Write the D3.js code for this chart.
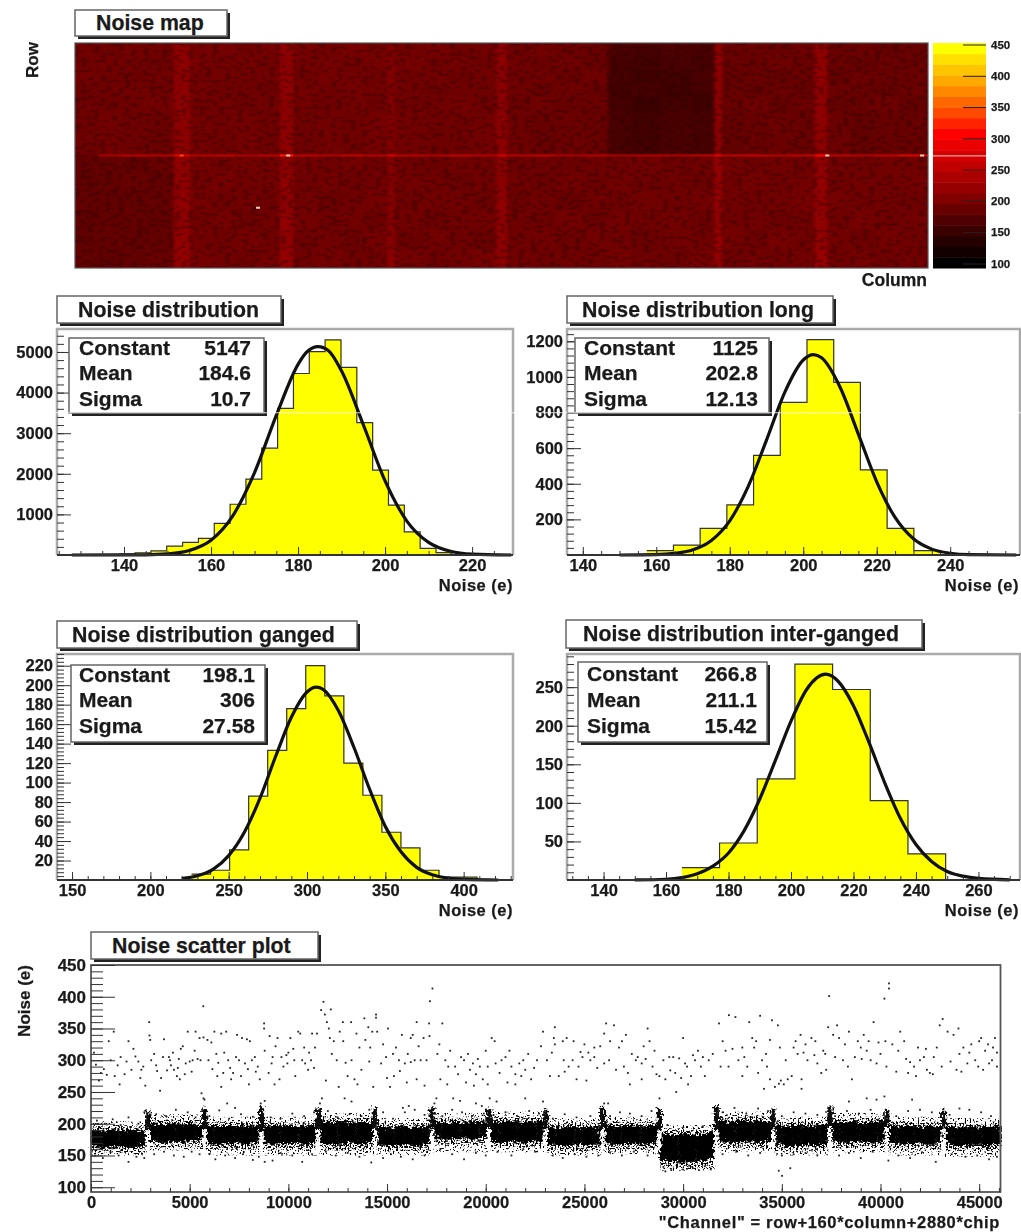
<!DOCTYPE html>
<html>
<head>
<meta charset="utf-8">
<script src="https://cdn.jsdelivr.net/npm/d3@7"></script>
<style>
html, body { margin: 0; padding: 0; background: #fff; }
svg { display: block; filter: blur(0.65px); }
text { font-family: "Liberation Sans", Arial, sans-serif; font-weight: bold; fill: #1a1a1a; stroke: #1a1a1a; stroke-width: 0.25px; }
</style>
</head>
<body>
<svg id="chart" width="1021" height="1232"></svg>
<script>
// ---- histogram data
var noiseStart = 138.9, noiseWidth = 3.64
var noiseCounts = [20,55,100,220,310,410,780,1250,1870,2630,3610,4470,5010,5300,4620,3260,2090,1230,570,165,60,10]
var noiseFit = [[128,0],[140,1],[145,5],[150,28],[155,112],[160,365],[165,965],[170,2030],[175,3440],[180,4695],[182,5000],[184.6,5130],[187,5030],[190,4530],[195,3208],[200,1826],[205,836],[210,310],[215,91],[220,21],[229,0]]
var noiseXTicks = [140,160,180,200,220]
var noiseYTicks = [1000,2000,3000,4000,5000]

var longStart = 157.4, longWidth = 7.27
var longCounts = [25,56,150,281,559,857,1209,969,478,150,25]
var longFit = [[150,0],[160,2],[165,9],[170,29],[175,82],[180,192],[185,384],[190,645],[195,915],[200,1095],[202.8,1125],[205,1107],[210,943],[215,679],[220,411],[225,211],[230,91],[235,33],[240,10],[245,2],[258,0]]
var longXTicks = [140,160,180,200,220,240]
var longYTicks = [200,400,600,800,1000,1200]

var gangedStart = 226.3, gangedWidth = 12.15
var gangedCounts = [6,10,31,86,133,176,220,189,120,87,49,33,10,3,3]
var gangedFit = [[220,1.5],[230,4.4],[240,11],[250,25],[260,49],[270,84],[280,127],[290,167],[300,193],[306,198],[310,196],[320,174],[330,136],[340,93],[350,55],[360,29],[370,13],[380,5.4],[390,2],[400,0.6],[422,0]]
var gangedXTicks = [150,200,250,300,350,400]
var gangedYTicks = [20,40,60,80,100,120,140,160,180,200,220]

var interStart = 165.07, interWidth = 12.06
var interCounts = [16,48,131,280,247,103,34]
var interFit = [[150,0.1],[160,1],[165,3],[170,8],[175,18],[180,35],[185,64],[190,105],[195,155],[200,206],[205,247],[211.1,266.8],[215,258],[220,226],[225,178],[230,126],[235,80],[240,46],[245,24],[250,11],[255,5],[260,2],[270,0.2]]
var interXTicks = [140,160,180,200,220,240,260]
var interYTicks = [50,100,150,200,250]

// ---- stats boxes
var statNames = ["Constant","Mean","Sigma"]
var noiseStats = ["5147","184.6","10.7"]
var longStats = ["1125","202.8","12.13"]
var gangedStats = ["198.1","306","27.58"]
var interStats = ["266.8","211.1","15.42"]

// ---- noise map data (columns 0-144, rows 0-320)
var mapColEdges = [0,4,8,12,16.7,19.4,23,27,31,34.6,36.8,41,45,49,52.8,54,59,63,67,71.2,72.9,77,81,86,90,94,99,104,108,109.2,113,117,121,124.9,127,131,135,139,144]
var mapRowEdges = [320,301,282,263,244,222,160,137,110,82,55,27,0]
var mapCells = [
 [194,191,196,192,214,195,198,193,197,216,197,194,199,195,206,194,197,192,195,212,191,194,190,188,166,162,168,164,214,186,190,188,191,216,186,189,185,188],
 [192,195,193,190,216,197,194,196,192,212,195,198,193,197,204,196,192,195,191,216,193,189,192,186,163,160,165,161,218,189,186,191,187,214,188,185,190,186],
 [195,192,190,194,212,193,196,192,195,214,192,196,195,192,208,192,195,190,194,210,190,192,188,191,161,158,160,164,216,185,188,184,189,218,184,190,187,189],
 [190,193,195,191,215,196,191,194,190,216,196,193,197,194,204,195,190,193,192,214,192,188,191,187,159,163,157,162,214,187,184,189,185,215,189,186,184,190],
 [193,190,192,195,213,192,195,190,194,211,194,191,195,190,207,191,193,196,190,211,189,193,187,190,162,156,161,158,217,188,191,185,190,217,185,188,191,185],
 [191,194,191,189,214,195,192,196,191,215,191,195,192,196,205,194,191,192,195,215,191,187,190,186,164,160,166,163,215,184,187,190,186,214,190,184,187,188],
 [183,185,182,187,216,196,193,197,192,214,195,192,196,191,208,193,190,194,191,216,190,193,189,192,191,195,190,193,220,196,192,195,191,217,194,191,195,192],
 [181,184,186,183,214,194,197,192,195,217,192,195,190,194,205,195,192,189,193,212,192,189,194,190,194,190,193,189,218,193,196,191,195,219,191,195,192,196],
 [184,181,183,185,217,197,192,195,191,213,194,189,193,196,210,191,194,192,189,218,189,192,188,193,190,194,191,195,221,195,191,194,197,216,196,192,194,191],
 [180,183,185,182,213,193,196,190,194,218,196,191,195,190,206,194,189,193,195,214,193,190,195,189,195,191,194,190,217,192,195,190,193,220,192,197,191,195],
 [182,185,181,184,218,195,191,197,192,216,191,194,189,197,212,190,195,191,188,219,191,195,190,194,192,189,195,192,222,197,190,196,192,218,195,190,196,193],
 [183,180,184,186,219,196,194,191,196,220,193,196,192,193,214,196,191,194,197,215,194,191,193,191,196,193,190,196,219,191,194,192,195,221,193,196,191,194]
]
var mapCenterLine = [185,240,252,245,285,248,256,240,254,320,254,244,258,248,285,250,244,256,248,270,248,256,240,248,236,248,244,254,285,254,260,248,256,305,254,248,258,285]
var mapHotCells = [[30.4,85,120],[30.9,85.7,380],[36,160,400],[18,160,340],[127,160,390],[143,160,420]]
var mapRowTicks = [40,80,120,160,200,240,280]

// ---- palette
var paletteColors = ["#000000","#120000","#250000","#3a0000","#500000","#680000","#800000","#960000","#aa0000","#c00000","#d60000","#ea0000","#ff0000","#ff2400","#ff4800","#ff6800","#ff8800","#ffa800","#ffc400","#ffe000","#ffff00"]
var paletteTicks = [100,150,200,250,300,350,400,450]

// ---- scatter plot: solid core of each chip, six segments per chip
var chipChannels = 2880
var bandTop = [
 190,189,191,188,190,189, 200,198,201,199,200,198, 197,195,198,196,197,196, 196,198,197,195,197,198,
 203,201,204,202,203,201, 195,194,196,195,194,196, 203,201,203,202,204,202, 204,203,205,202,204,205,
 195,194,196,193,195,196, 197,196,198,197,196,198, 184,182,185,183,184,186, 205,203,206,204,205,203,
 197,196,198,196,197,198, 203,202,204,201,203,204, 197,196,198,195,197,196, 195,194,196,194,195,197]
var bandBottom = [
 163,162,164,163,162,165, 172,170,172,171,172,174, 169,167,168,170,168,170, 169,167,168,170,167,171,
 169,168,167,170,168,171, 167,165,166,167,165,168, 177,175,176,177,175,178, 171,170,172,170,171,172,
 167,165,166,168,166,167, 169,167,168,169,167,170, 143,141,139,140,142,146, 172,170,171,172,170,172,
 167,165,166,167,165,168, 172,170,171,172,170,172, 169,167,168,169,167,170, 167,165,166,167,165,168]
var haloTop = [200,211,207,207,213,205,213,215,205,207,194,215,207,213,207,205]
var haloBottom = [150,158,150,150,150,150,155,155,150,152,126,155,150,155,150,148]
var spikeLow = [190,192,190,192,192,193,195,193,192,190,190,193,195,195,193]
var spikeHigh = [221,224,226,224,226,226,224,222,225,224,228,224,227,222,222]

// isolated dots, [channel, noise]
var scatterPoints = [
 [250,293],[500,280],[800,277],[1000,300],[1350,292],[1500,305],[1900,330],[2250,306],[2400,298],[2650,290],[2750,260],[1200,275],[650,286],[1800,298],[2550,285],[400,268],[1450,262],[2050,285],[150,312],[900,330],[1150,345],[1700,278],[2150,318],[2500,272],
 [2950,360],[2960,339],[3000,332],[3050,300],[3300,292],[3350,283],[3500,252],[3650,305],[3700,333],[3950,305],[4000,300],[4050,292],[4200,285],[4350,275],[4400,288],[4500,270],[4550,318],[4650,322],[4800,295],[4900,345],[5000,298],[5150,300],[5300,345],[5400,302],[5500,335],[5550,300],[5690,385],[5700,336],[5600,248],[5700,240],[5750,238],[3200,310],[3850,284],[4150,312],[4450,302],[4750,278],[5100,282],[5250,315],[3550,272],
 [5900,332],[6100,328],[6150,286],[6250,345],[6400,275],[6450,296],[6600,342],[6700,280],[6850,345],[6950,300],[7100,270],[7200,280],[7350,305],[7400,340],[7600,275],[7650,335],[7800,295],[7900,333],[8050,330],[8150,300],[8300,305],[8450,290],[8550,270],[6900,232],[7300,225],[6600,258],[8000,262],[5950,300],[6350,310],[6750,312],[7050,288],[7500,300],[7950,286],[8350,282],
 [8770,358],[8770,350],[8800,315],[9050,338],[9150,295],[9200,305],[9450,335],[9550,270],[9650,305],[9900,308],[9950,295],[10100,335],[10250,318],[10300,300],[10500,345],[10600,342],[10800,320],[10850,295],[11000,285],[11150,300],[11200,342],[11350,320],[11450,342],[10350,275],[9300,262],[8600,232],[8800,236],[9000,280],[9350,322],[9750,290],[10000,312],[10700,300],[11050,312],[11300,288],
 [11660,379],[11780,392],[11850,372],[11950,360],[12050,350],[12150,380],[12100,335],[12300,330],[12450,300],[12550,258],[12760,360],[12780,330],[12900,296],[13000,275],[13180,360],[13200,300],[13350,270],[13500,262],[13600,320],[13850,366],[13900,332],[14050,352],[14100,298],[14250,345],[14300,258],[12850,240],[13200,235],[11700,240],[11600,232],[11900,268],[12200,310],[12600,345],[13450,342],[13700,285],[14150,320],
 [14440,372],[14440,367],[14500,345],[14700,295],[14950,305],[15050,350],[15000,272],[15300,310],[15350,275],[15600,300],[15750,340],[15900,295],[16000,265],[16200,335],[16300,340],[16500,360],[16500,270],[16700,300],[16850,335],[17000,300],[17130,358],[17170,393],[17150,338],[17300,413],[16200,297],[15650,283],[15150,258],[16900,260],[15800,225],[16100,228],[14800,325],[15450,320],[16050,310],[16400,300],[16600,322],
 [17400,232],[17800,358],[17550,310],[17700,270],[17950,300],[18200,315],[18450,290],[18750,305],[18900,300],[19000,265],[19200,285],[19350,295],[19500,278],[19700,290],[19850,270],[20000,315],[18050,262],[17500,240],[19400,260],[18350,240],[18700,236],[19500,232],[19800,228],[17650,325],[18100,290],[18600,278],[19100,310],[19600,302],[20100,290],
 [20300,335],[20450,330],[20500,295],[20800,300],[21000,305],[21300,290],[21500,278],[21700,295],[21900,300],[22000,285],[22300,270],[22600,300],[22800,322],[22900,345],[22000,240],[21100,265],[20550,235],[22900,235],[21500,262],[20100,262],[20200,240],[20700,280],[21200,315],[21800,275],[22150,310],[22450,288],
 [23500,352],[23450,335],[23500,325],[23900,330],[23950,300],[24100,335],[24400,300],[24450,330],[24800,313],[24900,305],[25000,325],[25100,268],[25300,300],[25500,320],[25500,305],[25800,322],[23250,275],[24200,290],[23100,300],[23700,275],[24600,270],[23350,312],[24000,282],[24700,290],[25200,312],[25650,288],
 [26000,342],[26100,358],[26000,295],[26300,330],[26500,355],[26750,320],[26900,330],[27000,290],[27200,280],[27400,310],[27600,300],[27700,305],[27900,295],[28000,322],[28200,350],[28300,330],[28450,290],[28550,315],[28800,240],[28800,275],[26000,232],[26200,232],[27300,262],[27900,270],[26250,300],[26600,285],[27100,340],[28100,302],[28650,278],
 [29000,300],[29100,270],[29300,305],[29500,305],[29600,280],[29800,303],[30000,335],[30100,295],[30200,290],[30400,275],[30600,300],[30750,315],[30900,290],[31100,275],[31300,300],[31500,310],[29650,250],[30250,262],[29350,284],[29900,272],[30500,308],[31000,305],
 [31820,358],[32320,371],[32000,330],[32150,315],[32300,290],[32650,368],[32800,300],[33000,320],[33100,305],[33350,360],[33500,335],[33600,320],[33800,280],[33900,370],[34000,300],[34200,310],[34400,332],[34500,363],[34100,255],[34400,270],[33000,275],[34650,258],[34850,263],[34950,268],[31900,290],[32500,318],[33250,290],[33700,330],[34250,290],
 [34800,355],[34900,320],[35100,262],[35300,270],[35500,275],[35700,330],[35800,310],[35950,340],[36000,270],[36200,325],[36300,300],[36500,335],[36700,330],[36800,295],[37000,280],[37100,315],[37200,310],[37350,352],[37400,401],[36000,255],[37350,225],[35200,300],[35600,320],[36100,312],[36650,308],[37250,285],
 [37600,340],[37800,355],[37900,335],[38100,300],[38200,325],[38400,345],[38550,270],[38700,305],[38850,330],[39000,320],[39150,340],[39300,315],[39500,300],[39650,360],[39800,295],[40000,310],[40200,397],[40250,330],[40430,421],[40430,413],[40300,290],[38400,235],[39300,240],[39800,238],[40200,243],[37700,305],[38350,290],[39050,302],[39400,330],[39900,328],
 [40600,325],[40800,282],[41000,345],[41200,330],[41400,280],[41500,297],[41700,290],[41900,320],[42000,300],[42200,305],[42350,285],[42500,280],[42700,305],[42850,320],[43000,355],[43100,290],[43150,365],[41600,238],[40900,315],[41300,302],[41800,275],[42300,318],[42650,278],
 [43400,345],[43700,340],[43950,350],[44000,310],[44200,320],[44400,295],[44600,325],[44800,300],[45000,330],[45100,335],[45300,315],[45500,295],[45700,320],[45800,335],[45900,290],[45900,312],[45200,285],[44100,282],[43550,298],[43850,285],[44500,312],[44950,290],[45450,325],[45650,300],
 // fringe above the band
 [300,205],[700,200],[1100,207],[1500,198],[1900,210],[2400,200],[2700,218],[3300,215],[3800,212],[4300,222],[4900,218],[5300,210],[6000,212],[6500,221],[7000,208],[7600,215],[8200,211],[9100,210],[9600,208],[10200,216],[10800,212],[11300,218],[12000,220],[12500,210],[13100,215],[13700,212],[14100,222],[14800,218],[15300,208],[15900,218],[16400,222],[16900,214],[17800,212],[18300,222],[18800,218],[19300,212],[19900,216],[20400,214],[21000,218],[21600,212],[22200,220],[22700,216],[23400,208],[24000,215],[24600,210],[25300,212],[26300,212],[26800,218],[27300,216],[27900,212],[28400,220],[29200,198],[30000,194],[31000,196],[32000,218],[32600,225],[33200,216],[33800,224],[34300,220],[35000,212],[35600,218],[36200,216],[36800,214],[37700,212],[38300,220],[38900,216],[39500,222],[40800,212],[41400,220],[42000,222],[42600,218],[43500,214],[44000,224],[44500,222],[45100,218],[45600,212],
 // fringe below the band
 [200,150],[600,146],[1000,155],[1400,150],[1900,140],[2300,148],[2700,146],[3200,152],[3700,156],[4200,150],[4700,148],[5100,156],[5500,152],[6000,152],[6300,144],[6800,150],[7300,146],[7700,152],[8200,143],[8500,148],[8800,140],[9200,142],[9600,154],[10200,150],[10700,140],[11200,152],[11900,156],[12400,150],[13000,154],[13600,148],[14200,139],[14800,146],[15200,152],[15700,148],[16300,144],[16900,150],[17700,160],[18300,152],[18900,144],[19500,154],[20000,150],[20600,156],[21300,150],[21900,160],[22500,156],[23400,150],[23900,146],[24500,152],[25100,148],[25700,150],[26300,155],[26900,150],[27500,156],[28200,150],[29000,132],[29100,125],[29400,127],[29700,132],[30000,128],[30300,134],[30500,130],[30800,127],[31100,133],[31400,128],[32000,152],[32700,156],[33300,150],[33900,154],[34845,126],[35010,118],[35430,130],[35000,150],[35600,152],[36200,154],[36800,150],[37900,150],[38400,154],[39000,146],[39600,156],[40400,142],[40900,150],[41500,146],[42100,155],[42800,140],[43600,152],[44300,148],[44900,150],[45500,144],[45900,148]
]
var scatterXTicks = [0,5000,10000,15000,20000,25000,30000,35000,40000,45000]
var scatterYTicks = [100,150,200,250,300,350,400,450]

var svg = d3.select("#chart")

// grey framed label with the dark drop shadow the original boxes have
function drawBox(x0, y0, x1, y1) {
  svg.append("path")
    .attr("d", "M" + (x1 + 1.5) + "," + (y0 + 3) + "V" + (y1 + 1.5) + "H" + (x0 + 3))
    .attr("fill", "none").attr("stroke", "#222").attr("stroke-width", 3)
  svg.append("rect")
    .attr("x", x0).attr("y", y0).attr("width", x1 - x0).attr("height", y1 - y0)
    .attr("fill", "#fff").attr("stroke", "#666").attr("stroke-width", 1.5)
}

function drawTitle(x0, y0, x1, y1, textX, label) {
  drawBox(x0, y0, x1, y1)
  svg.append("text").attr("x", textX).attr("y", (y0 + y1) / 2 + 7)
    .style("font-size", "21.3px").text(label)
}

function styleAxis(g, size) {
  g.selectAll("text").style("font-size", size + "px")
  g.select(".domain").remove()
  g.selectAll("line").attr("stroke", "#333")
}

function minorValues(start, stop, step) {
  var vals = []
  for (var v = start; v <= stop + 1e-6; v += step) vals.push(v)
  return vals
}

function drawHist(p) {
  var x = d3.scaleLinear().domain(p.xDomain).range([p.left, p.right])
  var y = d3.scaleLinear().domain([0, p.yMax]).range([p.bottom, p.top])

  var g = svg.append("g")
  g.selectAll("rect.bar").data(p.counts).enter().append("rect").attr("class", "bar")
    .attr("x", function(d, i) { return x(p.start + i * p.width) })
    .attr("width", function() { return x(p.start + p.width) - x(p.start) + 0.7 })
    .attr("y", function(d) { return y(d) })
    .attr("height", function(d) { return p.bottom - y(d) })
    .attr("fill", "#ffff00")

  var steps = p.counts.map(function(d, i) { return [p.start + i * p.width, d] })
  steps.push([p.start + p.counts.length * p.width, 0])
  g.append("path").attr("fill", "none").attr("stroke", "#333").attr("stroke-width", 1.2)
    .attr("d", d3.line().curve(d3.curveStepAfter)
      .x(function(d) { return x(d[0]) }).y(function(d) { return y(d[1]) })(steps))

  g.append("path").attr("fill", "none").attr("stroke", "#111").attr("stroke-width", 3.2)
    .attr("d", d3.line().curve(d3.curveMonotoneX)
      .x(function(d) { return x(d[0]) }).y(function(d) { return y(d[1]) })(p.fit))

  // frame
  svg.append("path").attr("fill", "none").attr("stroke", "#aaa").attr("stroke-width", 2.5)
    .attr("d", "M" + p.left + "," + p.bottom + "V" + p.top + "H" + p.right + "V" + p.bottom)
  svg.append("line").attr("x1", p.left).attr("x2", p.right).attr("y1", p.bottom).attr("y2", p.bottom)
    .attr("stroke", "#333").attr("stroke-width", 2)

  // minor then major ticks, pointing into the frame
  svg.append("g").attr("transform", "translate(0," + p.bottom + ")")
    .call(d3.axisBottom(x).tickValues(minorValues(p.xMinorFrom, p.xDomain[1], p.xMinor)).tickSize(-4).tickFormat(""))
    .call(styleAxis, 16)
  svg.append("g").attr("transform", "translate(0," + p.bottom + ")")
    .call(d3.axisBottom(x).tickValues(p.xTicks).tickSize(-8).tickPadding(4).tickFormat(d3.format("d")))
    .call(styleAxis, 16.5)
  svg.append("g").attr("transform", "translate(" + p.left + ",0)")
    .call(d3.axisLeft(y).tickValues(minorValues(p.yMinor, p.yMax, p.yMinor)).tickSize(-7).tickFormat(""))
    .call(styleAxis, 16)
  svg.append("g").attr("transform", "translate(" + p.left + ",0)")
    .call(d3.axisLeft(y).tickValues(p.yTicks).tickSize(-14).tickPadding(4).tickFormat(d3.format("d")))
    .call(styleAxis, 16.5)

  svg.append("text").attr("x", p.noiseX).attr("y", p.bottom + 36).attr("text-anchor", "end")
    .style("font-size", "16.5px").style("letter-spacing", "0.5px").text("Noise (e)")

  drawTitle(p.titleBox[0], p.titleBox[1], p.titleBox[2], p.titleBox[3], p.titleTextX, p.title)

  drawBox(p.statBox[0], p.statBox[1], p.statBox[2], p.statBox[3])
  statNames.forEach(function(name, i) {
    svg.append("text").attr("x", p.statLabelX).attr("y", p.statRows[i] + 7)
      .style("font-size", "21px").text(name)
    svg.append("text").attr("x", p.statValueX).attr("y", p.statRows[i] + 7)
      .attr("text-anchor", "end").style("font-size", "21px").text(p.stats[i])
  })
}

// ---- noise map
var mapX = d3.scaleLinear().domain([0, 144]).range([75, 928])
var mapY = d3.scaleLinear().domain([0, 320]).range([268, 43])
var paletteY = d3.scaleLinear().domain([100, 450]).range([263.5, 44.5])
var paletteLow = paletteY.invert(268), paletteStep = (paletteY.invert(43) - paletteLow) / paletteColors.length
var mapColor = d3.scaleLinear()
  .domain(paletteColors.map(function(c, i) { return paletteLow + (i + 0.5) * paletteStep }))
  .range(paletteColors)

var defs = svg.append("defs")
defs.append("clipPath").attr("id", "mapclip").append("rect")
  .attr("x", mapX(0)).attr("y", mapY(320)).attr("width", mapX(144) - mapX(0)).attr("height", mapY(0) - mapY(320))
var soft = defs.append("filter").attr("id", "soft").attr("x", "-5%").attr("y", "-5%").attr("width", "110%").attr("height", "110%")
soft.append("feGaussianBlur").attr("stdDeviation", 1.6)

// grain filters: they only texture the map and the dense scatter band
function addSpeckle(id, freq, cut) {
  var f = defs.append("filter").attr("id", id).attr("filterUnits", "userSpaceOnUse")
    .attr("x", 0).attr("y", 0).attr("width", 1021).attr("height", 1232)
  f.append("feTurbulence").attr("type", "fractalNoise").attr("baseFrequency", freq).attr("numOctaves", 1).attr("seed", 4).attr("result", "n")
  f.append("feColorMatrix").attr("in", "n").attr("type", "matrix")
    .attr("values", "0 0 0 0 0 0 0 0 0 0 0 0 0 0 0 0 0 0 12 " + cut).attr("result", "m")
  f.append("feComposite").attr("in", "SourceGraphic").attr("in2", "m").attr("operator", "in")
}
addSpeckle("speckleSparse", 0.6, -6.9)
addSpeckle("speckleDense", 0.6, -5.9)
addSpeckle("mapGrain", "0.16 0.3", -6.2)
var rough = defs.append("filter").attr("id", "rough").attr("filterUnits", "userSpaceOnUse")
  .attr("x", 0).attr("y", 0).attr("width", 1021).attr("height", 1232)
rough.append("feTurbulence").attr("type", "fractalNoise").attr("baseFrequency", 0.4).attr("numOctaves", 2).attr("seed", 9).attr("result", "t")
rough.append("feDisplacementMap").attr("in", "SourceGraphic").attr("in2", "t").attr("scale", 9)
  .attr("xChannelSelector", "R").attr("yChannelSelector", "G")

var mapLayer = svg.append("g").attr("clip-path", "url(#mapclip)")
mapLayer.append("rect").attr("x", mapX(0)).attr("y", mapY(320))
  .attr("width", mapX(144) - mapX(0)).attr("height", mapY(0) - mapY(320)).attr("fill", "#7c0000")
var cellLayer = mapLayer.append("g").attr("filter", "url(#soft)")
mapCells.forEach(function(row, r) {
  cellLayer.selectAll("rect.r" + r).data(row).enter().append("rect").attr("class", "r" + r)
    .attr("x", function(d, c) { return mapX(mapColEdges[c]) })
    .attr("width", function(d, c) { return mapX(mapColEdges[c + 1]) - mapX(mapColEdges[c]) + 0.5 })
    .attr("y", mapY(mapRowEdges[r]))
    .attr("height", mapY(mapRowEdges[r + 1]) - mapY(mapRowEdges[r]) + 0.5)
    .attr("fill", function(d) { return mapColor(d) })
})
mapLayer.append("g").attr("filter", "url(#mapGrain)").attr("opacity", 0.3).append("rect")
  .attr("x", mapX(0)).attr("y", mapY(320)).attr("width", mapX(144) - mapX(0)).attr("height", mapY(0) - mapY(320))
  .attr("fill", "#2a0000")
mapLayer.selectAll("rect.center").data(mapCenterLine).enter().append("rect").attr("class", "center")
  .attr("x", function(d, c) { return mapX(mapColEdges[c]) })
  .attr("width", function(d, c) { return mapX(mapColEdges[c + 1]) - mapX(mapColEdges[c]) })
  .attr("y", mapY(160) - 1).attr("height", 2)
  .attr("fill", function(d) { return mapColor(d) })
mapLayer.selectAll("rect.hot").data(mapHotCells).enter().append("rect").attr("class", "hot")
  .attr("x", function(d) { return mapX(d[0]) - 2 }).attr("width", 4)
  .attr("y", function(d) { return mapY(d[1]) - 1 }).attr("height", 2)
  .attr("fill", function(d) { return d[2] > 350 ? "#ffd0c0" : (d[2] < 150 ? "#300000" : mapColor(d[2])) })

svg.append("rect").attr("x", mapX(0)).attr("y", mapY(320))
  .attr("width", mapX(144) - mapX(0)).attr("height", mapY(0) - mapY(320))
  .attr("fill", "none").attr("stroke", "#555").attr("stroke-width", 1.2)
svg.append("g").attr("transform", "translate(" + mapX(0) + ",0)")
  .call(d3.axisLeft(mapY).tickValues(mapRowTicks).tickSize(-13).tickFormat(""))
  .call(styleAxis, 12)
  .selectAll("line").attr("stroke", "#3a0000").attr("stroke-width", 0.8).attr("opacity", 0.6)

drawTitle(75, 10, 227, 36, 96, "Noise map")
svg.append("text").attr("transform", "translate(38,60) rotate(-90)").attr("text-anchor", "middle")
  .style("font-size", "17px").text("Row")
svg.append("text").attr("x", 927).attr("y", 286).attr("text-anchor", "end")
  .style("font-size", "17.5px").text("Column")

// ---- palette
svg.selectAll("rect.level").data(paletteColors).enter().append("rect").attr("class", "level")
  .attr("x", 933).attr("width", 53)
  .attr("y", function(d, i) { return paletteY(paletteLow + (i + 1) * paletteStep) })
  .attr("height", paletteY(paletteLow) - paletteY(paletteLow + paletteStep) + 0.5)
  .attr("fill", function(d) { return d })
svg.append("g").attr("transform", "translate(986,0)")
  .call(d3.axisRight(paletteY).tickValues(paletteTicks).tickSize(-23).tickPadding(5))
  .call(styleAxis, 11.5)
  .selectAll("line").attr("stroke", "#222")

// ---- histograms
drawHist({ title: "Noise distribution", titleBox: [57, 296, 281, 323], titleTextX: 78, noiseX: 513,
  left: 57, right: 513, top: 329, bottom: 555, xDomain: [124.6, 229.4], yMax: 5566,
  xTicks: noiseXTicks, yTicks: noiseYTicks, xMinor: 5, xMinorFrom: 125, yMinor: 200,
  start: noiseStart, width: noiseWidth, counts: noiseCounts, fit: noiseFit,
  stats: noiseStats, statBox: [69, 338, 264, 413], statLabelX: 79, statValueX: 251, statRows: [348, 373, 399] })

drawHist({ title: "Noise distribution long", titleBox: [567, 296, 833, 323], titleTextX: 582, noiseX: 1019,
  left: 567, right: 1020, top: 329, bottom: 555, xDomain: [135.7, 259], yMax: 1269,
  xTicks: longXTicks, yTicks: longYTicks, xMinor: 5, xMinorFrom: 140, yMinor: 40,
  start: longStart, width: longWidth, counts: longCounts, fit: longFit,
  stats: longStats, statBox: [575, 338, 769, 413], statLabelX: 584, statValueX: 758, statRows: [348, 373, 399] })

drawHist({ title: "Noise distribution ganged", titleBox: [57, 621, 357, 648], titleTextX: 72, noiseX: 513,
  left: 57, right: 513, top: 654, bottom: 880, xDomain: [140.4, 431.5], yMax: 232,
  xTicks: gangedXTicks, yTicks: gangedYTicks, xMinor: 10, xMinorFrom: 150, yMinor: 4,
  start: gangedStart, width: gangedWidth, counts: gangedCounts, fit: gangedFit,
  stats: gangedStats, statBox: [71, 665, 265, 742], statLabelX: 79, statValueX: 255, statRows: [675, 700, 726] })

drawHist({ title: "Noise distribution inter-ganged", titleBox: [566, 620, 922, 648], titleTextX: 583, noiseX: 1019,
  left: 567, right: 1020, top: 654, bottom: 880, xDomain: [128.3, 273.3], yMax: 293,
  xTicks: interXTicks, yTicks: interYTicks, xMinor: 5, xMinorFrom: 130, yMinor: 10,
  start: interStart, width: interWidth, counts: interCounts, fit: interFit,
  stats: interStats, statBox: [578, 662, 767, 742], statLabelX: 587, statValueX: 757, statRows: [674, 700, 726] })

// ---- scatter plot
var sx = d3.scaleLinear().domain([0, 46080]).range([91, 1000.5])
var sy = d3.scaleLinear().domain([92.5, 450]).range([1192, 965])
var segChannels = chipChannels / 6

function chipBottom(i) { return bandBottom[i * 6 + 2] }
function chipTop(i) { return bandTop[i * 6 + 2] }

svg.append("g").attr("filter", "url(#speckleSparse)")
  .selectAll("rect").data(haloTop).enter().append("rect")
  .attr("x", function(d, i) { return sx(i * chipChannels + 60) })
  .attr("width", sx(chipChannels - 120) - sx(0))
  .attr("y", function(d) { return sy(d + 4) })
  .attr("height", function(d, i) { return sy(haloBottom[i]) - sy(d + 4) })
  .attr("fill", "#000")
svg.append("g").attr("filter", "url(#speckleDense)")
  .selectAll("rect").data(haloTop).enter().append("rect")
  .attr("x", function(d, i) { return sx(i * chipChannels + 60) })
  .attr("width", sx(chipChannels - 120) - sx(0))
  .attr("y", function(d, i) { return sy(chipTop(i) + 5) })
  .attr("height", function(d, i) { return sy(chipBottom(i) - 9) - sy(chipTop(i) + 5) })
  .attr("fill", "#000")
var bandLayer = svg.append("g").attr("filter", "url(#rough)")
bandLayer.selectAll("rect.band").data(bandTop).enter().append("rect").attr("class", "band")
  .attr("x", function(d, i) { return sx(i * segChannels) })
  .attr("width", sx(segChannels) - sx(0) + 0.3)
  .attr("y", function(d) { return sy(d) })
  .attr("height", function(d, i) { return sy(bandBottom[i]) - sy(d) })
  .attr("fill", "#050505")
bandLayer.selectAll("rect.notch").data(spikeHigh).enter().append("rect").attr("class", "notch")
  .attr("x", function(d, i) { return sx((i + 1) * chipChannels - 110) })
  .attr("width", sx(220) - sx(0))
  .attr("y", function(d, i) { return sy(spikeLow[i]) })
  .attr("height", function(d, i) { return sy(haloBottom[i] + 8) - sy(spikeLow[i]) })
  .attr("fill", "#fff")
bandLayer.selectAll("rect.spike").data(spikeHigh).enter().append("rect").attr("class", "spike")
  .attr("x", function(d, i) { return sx((i + 1) * chipChannels - 130) })
  .attr("width", sx(260) - sx(0))
  .attr("y", function(d) { return sy(d) })
  .attr("height", function(d, i) { return sy(spikeLow[i]) - sy(d) })
  .attr("fill", "#111")
svg.selectAll("rect.dot").data(scatterPoints).enter().append("rect").attr("class", "dot")
  .attr("x", function(d) { return sx(d[0]) - 0.9 })
  .attr("y", function(d) { return sy(d[1]) - 0.9 })
  .attr("width", 1.8).attr("height", 1.8)
  .attr("fill", "#222")

svg.append("rect").attr("x", 91).attr("y", 965).attr("width", 909.5).attr("height", 227)
  .attr("fill", "none").attr("stroke", "#555").attr("stroke-width", 1.8)
svg.append("g").attr("transform", "translate(0,1192)")
  .call(d3.axisBottom(sx).tickValues(minorValues(0, 46000, 1000)).tickSize(-4).tickFormat(""))
  .call(styleAxis, 16)
svg.append("g").attr("transform", "translate(0,1192)")
  .call(d3.axisBottom(sx).tickValues(scatterXTicks).tickSize(-8).tickPadding(4).tickFormat(d3.format("d")))
  .call(styleAxis, 16.5)
svg.append("g").attr("transform", "translate(91,0)")
  .call(d3.axisLeft(sy).tickValues(minorValues(100, 450, 10)).tickSize(-12).tickFormat(""))
  .call(styleAxis, 16)
svg.append("g").attr("transform", "translate(91,0)")
  .call(d3.axisLeft(sy).tickValues(scatterYTicks).tickSize(-24).tickPadding(5).tickFormat(d3.format("d")))
  .call(styleAxis, 17)

drawTitle(91, 932, 318, 959, 112, "Noise scatter plot")
svg.append("text").attr("transform", "translate(30,1001) rotate(-90)").attr("text-anchor", "middle")
  .style("font-size", "17px").text("Noise (e)")
svg.append("text").attr("x", 1000).attr("y", 1228).attr("text-anchor", "end")
  .style("font-size", "16.5px").style("letter-spacing", "0.65px").text('"Channel" = row+160*column+2880*chip')

// thin white scan line that cuts through the original image
svg.append("rect").attr("x", 0).attr("y", 412.4).attr("width", 1021).attr("height", 0.8).attr("fill", "#fff")
svg.append("rect").attr("x", 930).attr("y", 155.5).attr("width", 58).attr("height", 0.8).attr("fill", "#fff")
</script>
</body>
</html>
